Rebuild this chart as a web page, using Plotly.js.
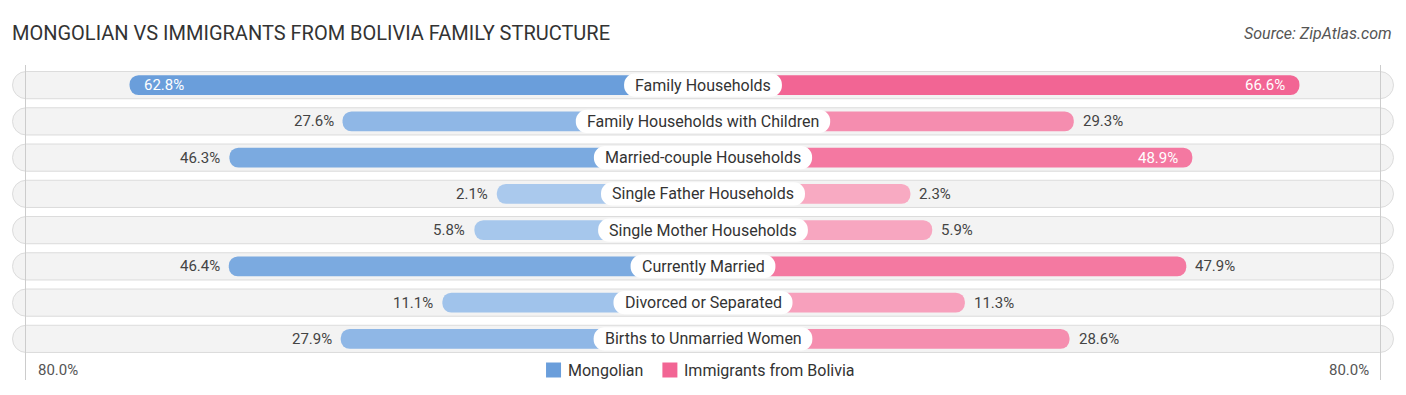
<!DOCTYPE html>
<html><head><meta charset="utf-8">
<script src="https://cdn.plot.ly/plotly-3.0.1.min.js"></script>
<style>body{margin:0;background:#fff}#chart{width:1406px;height:395px}</style>
</head><body><div id="chart"></div>
<script>
// ---- data ----
const categories = ["Family Households","Family Households with Children","Married-couple Households","Single Father Households","Single Mother Households","Currently Married","Divorced or Separated","Births to Unmarried Women"];
const mongolian = [62.8, 27.6, 46.3, 2.1, 5.8, 46.4, 11.1, 27.9];
const bolivia = [66.6, 29.3, 48.9, 2.3, 5.9, 47.9, 11.3, 28.6];
const seriesNames = ["Mongolian", "Immigrants from Bolivia"];
const axisMax = 80;
const axisTickLabel = "80.0%";
const titleText = "MONGOLIAN VS IMMIGRANTS FROM BOLIVIA FAMILY STRUCTURE";
const sourceText = "Source: ZipAtlas.com";

// ---- style / geometry ----
const W = 1406, H = 395, MT = 67, MB = 38;
const PH = H - MT - MB;
const PX = 6.05;            // px per percent
const OFF = 193.5 / PX;     // bar stub length behind label
const XR = 703 / PX;        // half range
const BG_HALF = 690.5 / PX;
const FONT = "Roboto, 'Open Sans', sans-serif";
const blueDark = [106,158,219], blueLight = [172,203,238];
const pinkDark = [242,101,148], pinkLight = [248,172,196];
function mix(a,b,t){return 'rgb('+a.map((v,i)=>Math.round(v+(b[i]-v)*t)).join(',')+')';}
const maxM = Math.max(...mongolian), maxB = Math.max(...bolivia);
const blueCols = mongolian.map(v=>mix(blueLight,blueDark,Math.min(1,v/maxM)));
const pinkCols = bolivia.map(v=>mix(pinkLight,pinkDark,Math.min(1,v/maxB)));
const legendCols = [mix(blueLight,blueDark,1), mix(pinkLight,pinkDark,1)];

// measure label widths
const cv = document.createElement('canvas').getContext('2d');
cv.font = "16px Roboto";
const labelHalf = categories.map(c => (cv.measureText(c).width/2 + 11)/PX);

const traces = [
  {type:'bar', orientation:'h', y:categories, x:categories.map(()=>2*BG_HALF), base:categories.map(()=>-BG_HALF),
   width:0.75, marker:{color:'#f3f3f3', line:{color:'#dcdcdc', width:1}, cornerradius:14},
   showlegend:false, hoverinfo:'skip'},
  {type:'bar', orientation:'h', name:seriesNames[0], y:categories, x:mongolian.map(v=>-(v+OFF)), base:0,
   width:0.55, marker:{color:blueCols, cornerradius:10}, hoverinfo:'skip', showlegend:false},
  {type:'bar', orientation:'h', name:seriesNames[1], y:categories, x:bolivia.map(v=>v+OFF), base:0,
   width:0.55, marker:{color:pinkCols, cornerradius:10}, hoverinfo:'skip', showlegend:false},
  {type:'bar', orientation:'h', y:categories, x:labelHalf.map(h=>2*h), base:labelHalf.map(h=>-h),
   width:0.64, marker:{color:'#ffffff', cornerradius:12}, showlegend:false, hoverinfo:'skip'}
];

const ann = [];
categories.forEach((c,i)=>{
  ann.push({x:0, y:c, xref:'x', yref:'y', text:c, showarrow:false, font:{family:FONT, size:16, color:'#333'}});
  const m = mongolian[i], b = bolivia[i];
  const mIn = m >= 48, bIn = b >= 48;
  ann.push({x:-(m+OFF), y:c, text:m.toFixed(1)+'%', showarrow:false,
    xanchor: mIn?'left':'right', xshift: mIn?12:-7,
    font:{family:FONT, size:15, color: mIn?'#ffffff':'#444'}});
  ann.push({x:(b+OFF), y:c, text:b.toFixed(1)+'%', showarrow:false,
    xanchor: bIn?'right':'left', xshift: bIn?-12:7,
    font:{family:FONT, size:15, color: bIn?'#ffffff':'#444'}});
});
const legPxY = 370;
const legY = (H-MB-legPxY)/PH;
ann.push({x:-(axisMax+OFF), y:legY, xref:'x', yref:'paper', text:axisTickLabel, showarrow:false, xanchor:'left', yanchor:'middle', xshift:10, font:{family:FONT,size:15,color:'#555'}});
ann.push({x:(axisMax+OFF), y:legY, xref:'x', yref:'paper', text:axisTickLabel, showarrow:false, xanchor:'right', yanchor:'middle', xshift:-10, font:{family:FONT,size:15,color:'#555'}});
ann.push({x:1394/W, y:1+(MT-34)/PH, xref:'paper', yref:'paper', text:'<i>'+sourceText+'</i>', showarrow:false, xanchor:'right', yanchor:'middle', font:{family:FONT,size:16,color:'#555'}});

const shapes = [-1,1].map(s=>({type:'line', xref:'x', yref:'paper', x0:s*(axisMax+OFF), x1:s*(axisMax+OFF),
  xshift: -s*4,
  y0:(H-MB-380)/PH, y1:1+(MT-65)/PH, line:{color:'#cccccc', width:1}, layer:'above'}));

// manual legend, centred under the chart
cv.font = "16px Roboto";
const SW = 15, GAP1 = 7, GAP2 = 19;
const tw = seriesNames.map(n=>cv.measureText(n).width);
const total = SW+GAP1+tw[0]+GAP2+SW+GAP1+tw[1];
let lx = 700.5 - total/2;
seriesNames.forEach((n,i)=>{
  shapes.push({type:'rect', xref:'paper', yref:'paper', x0:lx/W, x1:(lx+SW)/W,
    y0:(H-MB-legPxY-SW/2)/PH, y1:(H-MB-legPxY+SW/2)/PH, fillcolor:legendCols[i], line:{width:0}});
  ann.push({x:(lx+SW+GAP1)/W, y:legY, xref:'paper', yref:'paper', text:n, showarrow:false, xanchor:'left', yanchor:'middle',
    xshift:-2, font:{family:FONT,size:16,color:'#333'}});
  lx += SW+GAP1+tw[i]+GAP2;
});

const layout = {
  width:W, height:H, margin:{l:0,r:0,t:MT,b:MB},
  paper_bgcolor:'#fff', plot_bgcolor:'#fff',
  barmode:'overlay', showlegend:false,
  title:{text:titleText, x:12/W, xanchor:'left', xref:'paper', y:1-33/H, yanchor:'middle', yref:'container',
    font:{family:FONT, size:20, color:'#333'}},
  xaxis:{range:[-XR,XR], showgrid:false, zeroline:false, showticklabels:false, fixedrange:true},
  yaxis:{type:'category', categoryorder:'array', categoryarray:categories, range:[categories.length-0.5,-0.5],
    showgrid:false, zeroline:false, showticklabels:false, fixedrange:true},
  annotations:ann, shapes:shapes
};
Plotly.newPlot('chart', traces, layout, {displayModeBar:false, staticPlot:true});
</script></body></html>
